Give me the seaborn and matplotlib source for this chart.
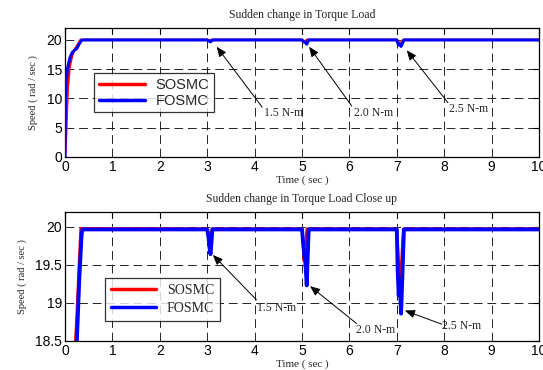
import numpy as np
import pandas as pd
import matplotlib
matplotlib.use("Agg")
import matplotlib.pyplot as plt
import seaborn as sns

# ---- data ----
fosmc_t = [0, 0.01, 0.02, 0.05, 0.10, 0.15, 0.20, 0.25, 0.30, 0.35, 0.37,
           3.00, 3.03, 3.05, 3.07, 3.09, 3.11,
           5.00, 5.03, 5.05, 5.07, 5.10, 5.12, 5.14,
           7.00, 7.02, 7.04, 7.06, 7.09, 7.12, 7.15, 10.0]
fosmc_v = [0, 10.0, 12.5, 15.0, 16.8, 17.8, 18.2, 18.5, 19.3, 19.9, 19.965,
           19.965, 19.85, 19.72, 19.64, 19.80, 19.965,
           19.965, 19.75, 19.63, 19.55, 19.23, 19.60, 19.965,
           19.965, 19.40, 19.10, 19.30, 18.86, 19.40, 19.965, 19.965]

sosmc_t = [0, 0.02, 0.04, 0.06, 0.10, 0.15, 0.20, 0.25, 0.30, 0.33,
           3.00, 3.04, 3.07, 3.10,
           5.00, 5.04, 5.07, 5.10,
           7.00, 7.04, 7.08, 7.11, 7.14, 10.0]
sosmc_v = [0, 3.0, 8.0, 12.0, 15.5, 17.3, 18.3, 18.9, 19.6, 19.98,
           19.975, 19.88, 19.90, 19.975,
           19.975, 19.55, 19.75, 19.975,
           19.975, 19.55, 19.34, 19.70, 19.975, 19.975]

series_names = ["SOSMC", "FOSMC"]
series_colors = ["#ff0000", "#0000ff"]

top_title = "Sudden change in Torque Load"
bot_title = "Sudden change in Torque Load Close up"
xlab = "Time ( sec )"
ylab = "Speed ( rad / sec )"
x_ticks = list(range(0, 11))
top_yticks = [0, 5, 10, 15, 20]
bot_yticks = [18.5, 19, 19.5, 20]

ann_labels = ["1.5 N-m", "2.0 N-m", "2.5 N-m"]
top_heads = [(3.2, 18.8), (5.15, 18.8), (7.21, 18.2)]
top_tails = [(4.16, 8.5), (6.05, 8.7), (8.08, 9.25)]
top_texts = [(4.2, 7.5), (6.1, 7.5), (8.1, 8.2)]
bot_heads = [(3.12, 19.63), (5.17, 19.22), (7.17, 18.90)]
bot_tails = [(4.04, 19.04), (6.15, 18.73), (7.95, 18.72)]
bot_texts = [(4.05, 18.93), (6.14, 18.65), (7.95, 18.70)]

df = pd.concat([
    pd.DataFrame({"t": sosmc_t, "v": sosmc_v, "ctrl": "SOSMC"}),
    pd.DataFrame({"t": fosmc_t, "v": fosmc_v, "ctrl": "FOSMC"}),
], ignore_index=True)

sns.set_style("white")
plt.rcParams["font.family"] = ["Liberation Sans", "DejaVu Sans"]
serif = ["Liberation Serif", "DejaVu Serif"]

fig = plt.figure(figsize=(5.43, 3.70), dpi=100)
ax1 = fig.add_axes([65/543, 1-157/370, 474/543, 129/370])
ax2 = fig.add_axes([65/543, 1-341/370, 474/543, 129.5/370])

palette = dict(zip(series_names, series_colors))

for ax, ylim, yticks, lwb, title, heads, tails, texts in [
        (ax1, (0, 22), top_yticks, 2.2, top_title, top_heads, top_tails, top_texts),
        (ax2, (18.5, 20.2), bot_yticks, 2.8, bot_title, bot_heads, bot_tails, bot_texts)]:
    for name in series_names:
        sub = df[df.ctrl == name]
        sns.lineplot(data=sub, x="t", y="v", ax=ax, color=palette[name],
                     lw=(1.8 if name == "SOSMC" else lwb), estimator=None,
                     sort=False, label=name, zorder=3 if name == "SOSMC" else 4)
    ax.set_xlim(0, 10)
    ax.set_ylim(*ylim)
    ax.set_xticks(x_ticks)
    ax.set_yticks(yticks)
    ax.set_yticklabels([f"{y:g}" for y in yticks])
    ax.tick_params(direction="in", length=4, width=0.8, labelsize=10,
                   colors="black", top=True, right=True, pad=2)
    for s in ax.spines.values():
        s.set_color("black")
        s.set_linewidth(0.9)
    ax.grid(True, color="#222222", linestyle=(0, (9, 5)), linewidth=0.7)
    ax.set_axisbelow(True)
    ax.set_title(title, fontsize=8.5, family=serif, pad=7)
    ax.set_xlabel(xlab, fontsize=8, family=serif, labelpad=1)
    ax.set_ylabel(ylab, fontsize=7.5, family=serif, labelpad=6)
    for lab, h, tl, tx in zip(ann_labels, heads, tails, texts):
        ax.annotate("", xy=h, xytext=tl,
                    arrowprops=dict(arrowstyle="-|>,head_length=0.6,head_width=0.25",
                                    color="black", lw=0.7, shrinkA=0, shrinkB=0),
                    zorder=6)
        ax.text(tx[0], tx[1], lab, fontsize=8.5, family=serif, va="center",
                ha="left", zorder=6)

leg1 = ax1.legend(loc="upper left", frameon=True, fancybox=False, edgecolor="black",
                  prop={"size": 10.5}, handlelength=3.2, borderpad=0.3,
                  labelspacing=0.15, handletextpad=0.7)
leg1.get_frame().set_linewidth(0.9)
for h in leg1.get_lines():
    h.set_linewidth(2.5)
leg1.set_bbox_to_anchor((22/474, (157-66)/129), transform=ax1.transAxes)

leg2 = ax2.legend(loc="upper left", frameon=True, fancybox=False, edgecolor="black",
                  prop={"family": serif, "size": 10}, handlelength=3.2,
                  borderpad=0.45, labelspacing=0.35, handletextpad=0.8)
leg2.get_frame().set_linewidth(0.9)
for h in leg2.get_lines():
    h.set_linewidth(2.5)
leg2.set_bbox_to_anchor((33/474, (341-271)/129.5), transform=ax2.transAxes)

fig.savefig("out.png", dpi=100)
